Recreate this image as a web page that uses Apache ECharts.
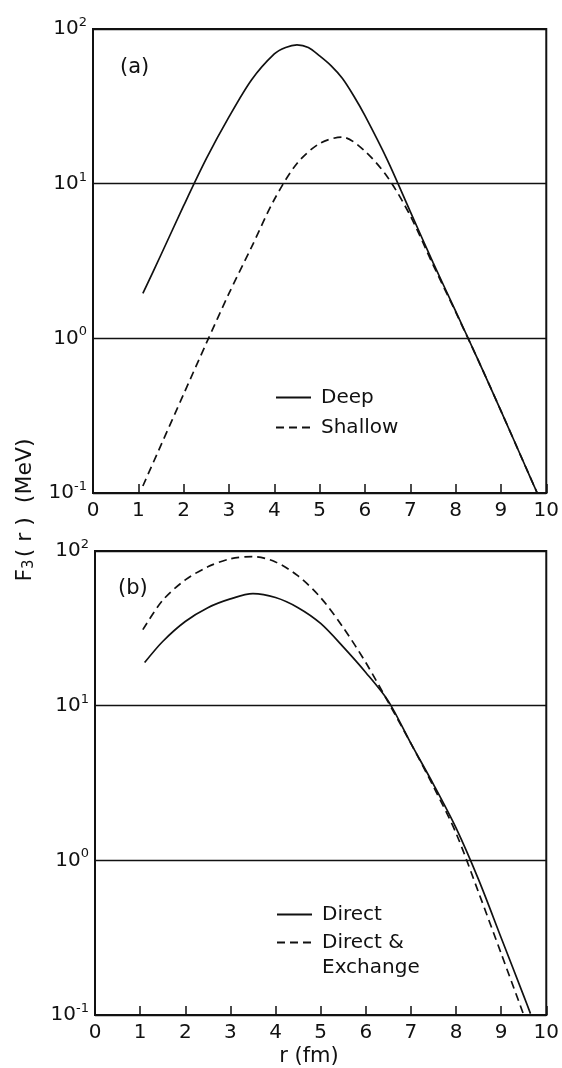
<!DOCTYPE html>
<html>
<head>
<meta charset="utf-8">
<script src="https://cdn.jsdelivr.net/npm/echarts@6/dist/echarts.min.js"></script>
<style>
html,body{margin:0;padding:0;background:#fff;}
#chart{width:562px;height:1068px;}
</style>
</head>
<body>
<div id="chart"></div>
<script>
// ---- Data ----
const xTicks = [0,1,2,3,4,5,6,7,8,9,10];
const yTicks = [0.1, 1, 10, 100];

// Panel (a)
const deepR    = [1.1,1.5,2.0,2.5,3.0,3.5,4.0,4.25,4.5,4.75,5.0,5.25,5.5,5.75,6.0,6.5,7.0,7.5,8.0,8.5,9.0,9.5,9.8];
const deepF    = [1.95,3.47,7.2,14.5,27,47,69,76,79,76,67,58,48,37,27.5,14.1,6.6,3.1,1.5,0.72,0.34,0.158,0.1];
const shallowR = [1.1,1.5,2.0,2.5,3.0,3.5,4.0,4.5,5.0,5.5,6.0,6.5,7.0,7.5,8.0,8.5,9.0,9.5,9.8];
const shallowF = [0.111,0.204,0.436,0.93,1.95,3.9,7.9,13.5,18.2,20,16.2,11,6.2,3.0,1.48,0.72,0.34,0.158,0.1];

// Panel (b)
const directR  = [1.1,1.5,2.0,2.5,3.0,3.5,4.0,4.5,5.0,5.5,6.0,6.5,7.0,7.5,8.0,8.5,9.0,9.5,9.65];
const directF  = [19,26,35,43,49,53,50,43,34,24,16.4,10.7,5.7,3.1,1.62,0.75,0.316,0.133,0.102];
const dexR     = [1.06,1.5,2.0,2.5,3.0,3.5,4.0,4.5,5.0,5.5,6.0,6.5,7.0,7.5,8.0,8.5,9.0,9.49];
const dexF     = [31,48,65,79,89,92,85,69,50,32,19,10.5,5.7,3.0,1.5,0.62,0.25,0.102];

const FONT = '"DejaVu Sans", sans-serif';
const INK = '#111';

function pairs(xs, ys){ return xs.map((x,i)=>[x, ys[i]]); }

const chart = echarts.init(document.getElementById('chart'), null, {renderer:'canvas'});

function xAxisCfg(gi){
  return {
    type:'value', gridIndex:gi, min:0, max:10, interval:1,
    axisLine:{show:true, onZero:false, lineStyle:{color:INK, width:2}},
    axisTick:{show:true, inside:true, length:9, lineStyle:{color:INK, width:1.5}},
    axisLabel:{show:true, margin:8, fontSize:20, fontFamily:FONT, color:INK,
      formatter: v => String(v)},
    splitLine:{show:false}
  };
}
function yAxisCfg(gi){
  return {
    type:'log', logBase:10, gridIndex:gi, min:0.1, max:100,
    axisLine:{show:true, lineStyle:{color:INK, width:2}},
    axisTick:{show:false},
    minorTick:{show:false},
    axisLabel:{show:true, margin:6, color:INK,
      formatter: v => {
        const e = Math.round(Math.log10(v));
        return '{b|10}{s|' + e + '}';
      },
      rich:{
        b:{fontSize:20, fontFamily:FONT, color:INK, lineHeight:26},
        s:{fontSize:13, fontFamily:FONT, color:INK, verticalAlign:'top', lineHeight:13}
      }
    },
    splitLine:{show:true, lineStyle:{color:INK, width:1.3}}
  };
}

const lineSolid = {color:INK, width:1.7, type:'solid'};
const lineDash  = {color:INK, width:1.7, type:[8,5]};

function seriesCfg(name, data, gi, ls){
  return {
    name, type:'line', xAxisIndex:gi, yAxisIndex:gi, data,
    symbol:'none', showSymbol:false, smooth:0.3,
    lineStyle:ls, itemStyle:{color:INK}, emphasis:{disabled:true}, silent:true,
    animation:false
  };
}

const legendBase = {
  orient:'vertical', padding:0, itemWidth:35, itemHeight:14, itemGap:5,
  selectedMode:false,
  itemStyle:{color:'rgba(0,0,0,0)', borderWidth:0},
  textStyle:{fontSize:20, fontFamily:FONT, color:INK, lineHeight:25, padding:[0,0,0,5]}
};

const option = {
  backgroundColor:'#fff',
  animation:false,
  grid:[
    {left:93, top:29, width:456, height:464, show:true, borderColor:INK, borderWidth:2, backgroundColor:'transparent'},
    {left:95, top:551, width:455, height:464, show:true, borderColor:INK, borderWidth:2, backgroundColor:'transparent'}
  ],
  xAxis:[xAxisCfg(0), xAxisCfg(1)],
  yAxis:[yAxisCfg(0), yAxisCfg(1)],
  legend:[
    Object.assign({}, legendBase, {data:['Deep','Shallow'], left:275, top:385}),
    Object.assign({}, legendBase, {data:['Direct'], left:276, top:902}),
    Object.assign({}, legendBase, {data:['Direct & Exchange'], left:276, top:905,
      formatter: () => ' \nDirect &\nExchange'})
  ],
  title:[
    {text:'(a)', left:115, top:52, textStyle:{fontSize:21, fontWeight:'normal', fontFamily:FONT, color:INK}},
    {text:'(b)', left:113, top:573, textStyle:{fontSize:21, fontWeight:'normal', fontFamily:FONT, color:INK}}
  ],
  graphic:[
    {type:'text', x:25, y:510, rotation:Math.PI/2,
      style:{text:'{n|F}{sub|3}{n|( r )  (MeV)}', align:'center', verticalAlign:'middle',
        rich:{
          n:{fontSize:22, fontFamily:FONT, fill:INK, color:INK},
          sub:{fontSize:15, fontFamily:FONT, fill:INK, color:INK, verticalAlign:'bottom', padding:[9,2,0,0]}
        }}},
    {type:'text', x:309, y:1057,
      style:{text:'r (fm)', align:'center', verticalAlign:'middle', fontSize:21, fontFamily:FONT, fill:INK}}
  ],
  series:[
    seriesCfg('Deep', pairs(deepR, deepF), 0, lineSolid),
    seriesCfg('Shallow', pairs(shallowR, shallowF), 0, lineDash),
    seriesCfg('Direct', pairs(directR, directF), 1, lineSolid),
    seriesCfg('Direct & Exchange', pairs(dexR, dexF), 1, lineDash)
  ]
};
chart.setOption(option);
</script>
</body>
</html>
